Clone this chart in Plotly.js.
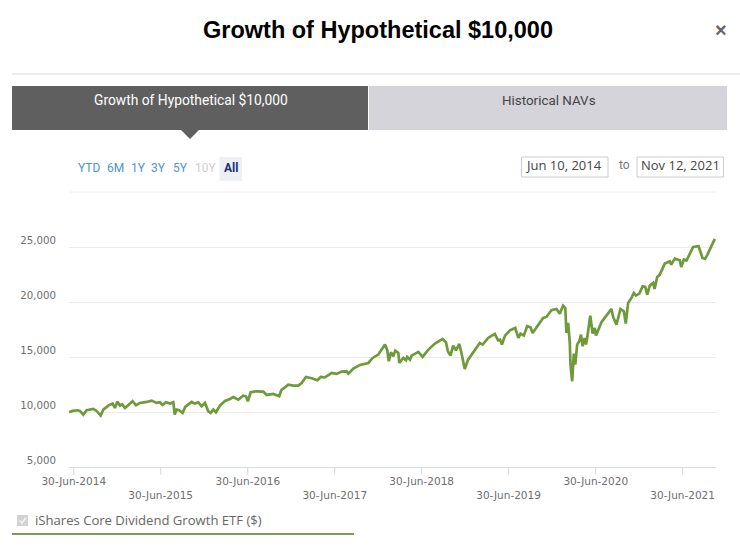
<!DOCTYPE html>
<html><head><meta charset="utf-8">
<script src="https://cdn.plot.ly/plotly-3.0.1.min.js"></script>
<style>html,body{margin:0;padding:0;background:#fff}#c{width:740px;height:546px}</style>
</head><body><div id="c"></div>
<script>
const seriesName = "iShares Core Dividend Growth ETF ($)";
const chartTitle = "Growth of Hypothetical $10,000";
const dates = [
"2014-06-10","2014-06-26","2014-07-15","2014-07-26","2014-08-09","2014-08-23","2014-09-20","2014-10-04","2014-10-21","2014-11-01","2014-11-22","2014-12-10","2014-12-20","2014-12-30",
"2015-01-10","2015-01-19","2015-01-31","2015-02-18","2015-03-04","2015-03-18","2015-04-04","2015-05-02","2015-05-23","2015-06-13","2015-06-27","2015-07-08","2015-07-22","2015-08-08","2015-08-22","2015-08-28","2015-09-05","2015-09-16","2015-09-30","2015-10-11","2015-11-07","2015-11-21","2015-12-05","2015-12-19",
"2016-01-02","2016-01-16","2016-01-26","2016-02-06","2016-02-17","2016-03-05","2016-03-26","2016-04-16","2016-04-30","2016-05-21","2016-06-11","2016-06-22","2016-06-30","2016-07-12","2016-08-06","2016-09-03","2016-09-17","2016-10-15","2016-11-09","2016-11-17","2016-12-17",
"2017-01-07","2017-01-28","2017-02-11","2017-03-01","2017-03-25","2017-04-18","2017-05-02","2017-05-20","2017-06-17","2017-07-08","2017-07-29","2017-08-19","2017-08-26","2017-09-16","2017-10-14","2017-11-18","2017-12-06","2017-12-30",
"2018-01-27","2018-02-05","2018-02-12","2018-02-21","2018-03-03","2018-03-11","2018-03-24","2018-03-28","2018-04-14","2018-04-25","2018-04-30","2018-05-12","2018-05-19","2018-06-16","2018-07-04","2018-07-28","2018-08-25","2018-09-26","2018-10-10","2018-10-18","2018-10-29","2018-11-09","2018-11-21","2018-12-05","2018-12-14","2018-12-28",
"2019-01-11","2019-02-01","2019-03-01","2019-03-13","2019-04-05","2019-05-03","2019-05-17","2019-05-25","2019-06-02","2019-06-15","2019-07-06","2019-07-28","2019-08-10","2019-08-19","2019-09-02","2019-09-16","2019-09-30","2019-10-09","2019-11-01","2019-11-22","2019-12-06","2019-12-27",
"2020-01-17","2020-01-31","2020-02-14","2020-02-23","2020-02-28","2020-03-06","2020-03-13","2020-03-16","2020-03-23","2020-03-30","2020-04-05","2020-04-13","2020-04-22","2020-04-29","2020-05-06","2020-05-14","2020-05-20","2020-05-25","2020-06-07","2020-06-17","2020-06-26","2020-07-01","2020-07-24","2020-08-14","2020-09-04","2020-09-11","2020-09-25","2020-10-12","2020-10-26","2020-11-03","2020-11-13","2020-11-27","2020-12-07","2020-12-16","2020-12-30",
"2021-01-13","2021-01-24","2021-02-01","2021-02-12","2021-02-26","2021-03-04","2021-03-15","2021-03-26","2021-04-16","2021-05-07","2021-05-13","2021-05-28","2021-06-18","2021-06-24","2021-07-05","2021-07-16","2021-08-13","2021-09-05","2021-09-21","2021-10-02","2021-10-12","2021-10-22","2021-11-02","2021-11-12"];
const growth = [
9976,10097,10157,10097,9763,10157,10279,10097,9673,10218,10582,10763,10369,10945,
10582,10703,10369,10763,10976,10612,10824,10915,11036,10824,10885,10642,10885,10763,10885,9763,10218,10157,9915,10460,10915,10763,10885,10521,
10824,10066,9915,10218,9976,10582,11006,11188,11369,11127,11491,11430,10976,11794,11884,11854,11551,11642,11430,11975,12490,
12400,12400,12642,13187,13066,12884,13187,13157,13551,13460,13672,13702,13490,13945,14278,14460,14915,15217,
16127,15672,14611,15430,15066,15581,15369,14460,14915,14702,15005,14763,15127,15460,15005,15672,16217,16642,16339,15520,15127,16036,15611,16187,15369,13915,
14763,15460,16278,16127,16732,17096,16520,16582,16128,16946,17430,17642,16733,17127,16946,17794,17703,17188,17945,18551,18642,19249,
19370,18945,19673,19460,17188,18097,16279,14310,12795,15309,14310,16128,16430,17036,15976,16733,16128,16733,18764,17127,17642,16946,18157,18764,19370,18642,17945,19370,19158,18036,19915,20370,20824,20582,20763,
21430,21370,20672,21491,21733,21188,22278,22490,23490,23703,23400,23945,23793,23188,23854,23763,25005,25066,24006,23915,24309,24800,25369,25733];
const xTickVals = ["2014-06-30","2015-06-30","2016-06-30","2017-06-30","2018-06-30","2019-06-30","2020-06-30","2021-06-30"];
const xTickText = ["30-Jun-2014"," <br>30-Jun-2015","30-Jun-2016"," <br>30-Jun-2017","30-Jun-2018"," <br>30-Jun-2019","30-Jun-2020"," <br>30-Jun-2021"];
const yTickVals = [5000,10000,15000,20000,25000];
const yTickText = ["5,000<br> ","10,000<br> ","15,000<br> ","20,000<br> ","25,000<br> "];
const rangeLabels = ["YTD","6M","1Y","3Y","5Y","10Y","All"];
const rangeCentres = [89,115.5,138,158.5,180.5,205,231];
const rangeColours = ["#4f94c8","#4f94c8","#4f94c8","#4f94c8","#4f94c8","#cfcfcf","#12307a"];

const L=69,T=192,W=647,H=275;
const px=x=>(x-L)/W, py=y=>(T+H-y)/H;
const rect=(x0,y0,x1,y1,fill,line)=>({type:'rect',xref:'paper',yref:'paper',x0:px(x0),x1:px(x1),y0:py(y0),y1:py(y1),fillcolor:fill,line:line||{width:0},layer:'below'});
const hline=(x0,x1,y,c,w)=>({type:'line',xref:'paper',yref:'paper',x0:px(x0),x1:px(x1),y0:py(y),y1:py(y),line:{color:c,width:w}});
const poly=(pts,fill)=>({type:'path',xref:'paper',yref:'paper',path:'M'+pts.map(p=>px(p[0])+','+py(p[1])).join(' L')+' Z',fillcolor:fill,line:{width:0}});
const note=(x,y,text,size,color,opt)=>Object.assign({xref:'paper',yref:'paper',x:px(x),y:py(y),text,showarrow:false,xanchor:'center',yanchor:'middle',font:{size,color,family:'Roboto, sans-serif'}},opt||{});

const shapes=[
 hline(12,740,74,'#d9d9d9',1),
 rect(12,86,368,130,'#5f5f5f'),
 rect(369,86,727,130,'#d4d4da'),
 poly([[181,130],[199,130],[190,139]],'#5f5f5f'),
 rect(219.5,157,242,181,'#eef0f4'),
 rect(521.5,157,608,177,'#ffffff',{color:'#cccccc',width:1}),
 rect(637,157,723.5,177,'#ffffff',{color:'#cccccc',width:1}),
 hline(70,716,192,'#eeeeee',1),
 rect(17,515,28,526,'#d2d2d2'),
 {type:'path',xref:'paper',yref:'paper',path:`M${px(19.5)},${py(520.5)} L${px(22)},${py(523)} L${px(26)},${py(517.5)}`,line:{color:'#f4f4f4',width:1.5}},
 hline(12,354,534,'#7f9a55',2)
];
xTickVals.forEach(d=>shapes.push({type:'line',xref:'x',yref:'paper',x0:d,x1:d,y0:0,y1:py(475),line:{color:'#d8dce6',width:1}}));
const annotations=[
 note(721,30,'×',20,'#777777',{font:{size:20,color:'#666666',family:'Liberation Sans, sans-serif',weight:700}}),
 note(190.5,100,chartTitle,13.8,'#ffffff'),
 note(548.5,100,'Historical NAVs',13.4,'#444444'),
 note(563.5,165.5,'Jun 10, 2014',13,'#444444',{font:{size:13,color:'#444444',family:'Open Sans, sans-serif'}}),
 note(624,165.5,'to',12,'#777777'),
 note(680,165.5,'Nov 12, 2021',13,'#444444',{font:{size:13,color:'#444444',family:'Open Sans, sans-serif'}}),
 note(33,520,seriesName,13,'#666666',{xanchor:'left',font:{size:13.1,color:'#666666',family:'Open Sans, sans-serif'}})
];
rangeLabels.forEach((t,i)=>annotations.push(note(rangeCentres[i],167.5,t,12,rangeColours[i],t==='All'?{font:{size:12,color:rangeColours[i],family:'Roboto, sans-serif',weight:700}}:{})));

const xTickFont={family:'DejaVu Sans, sans-serif',size:10.5,color:'#6e6e6e'};
const yTickFont={family:'DejaVu Sans, sans-serif',size:10.2,color:'#6e6e6e'};
Plotly.newPlot('c',[{
  type:'scatter',mode:'lines',name:seriesName,x:dates,y:growth,
  line:{color:'#6f9a3a',width:2.7,shape:'linear'},showlegend:false,hoverinfo:'x+y'
}],{
  width:740,height:546,autosize:false,
  paper_bgcolor:'#fff',plot_bgcolor:'#fff',
  margin:{l:L,r:740-L-W,t:T,b:546-T-H,pad:0},
  title:{text:chartTitle,x:378/740,xref:'container',xanchor:'center',y:1-30/546,yref:'container',yanchor:'middle',
         font:{family:'Liberation Sans, sans-serif',size:23.5,color:'#000',weight:700}},
  xaxis:{type:'date',range:['2014-06-10','2021-11-17'],tickmode:'array',tickvals:xTickVals,ticktext:xTickText,
         ticks:'outside',ticklen:4.5,tickwidth:1,tickcolor:'#d8dce6',showline:true,linecolor:'#d8dce6',linewidth:1,
         showgrid:false,zeroline:false,tickangle:0,tickfont:xTickFont},
  yaxis:{range:[5000,30000],tickmode:'array',tickvals:yTickVals,ticktext:yTickText,
         showgrid:true,gridcolor:'#ebebeb',gridwidth:1,zeroline:false,showline:false,
         ticks:'',ticklabelstandoff:12,tickfont:yTickFont},
  shapes,annotations,hovermode:'closest'
},{displayModeBar:false});
</script></body></html>
